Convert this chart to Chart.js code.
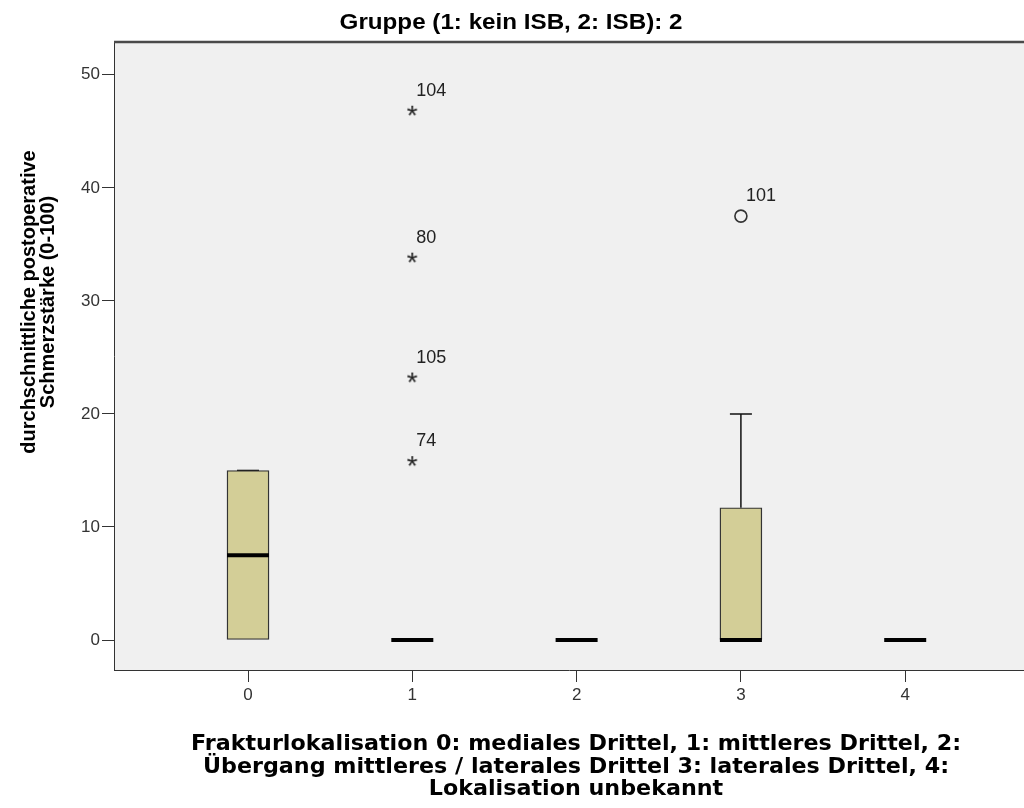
<!DOCTYPE html>
<html>
<head>
<meta charset="utf-8">
<script src="https://cdn.jsdelivr.net/npm/chart.js@4.4.0/dist/chart.umd.min.js"></script>
<style>
html, body { margin: 0; padding: 0; background: #fff; overflow: hidden; }
#wrap { width: 1024px; height: 808px; position: relative; }
</style>
</head>
<body>
<div id="wrap"><canvas id="boxChart" width="1024" height="808"></canvas></div>
<script>
// Boxplot values
const categories = [0, 1, 2, 3, 4];
const lowerWhisker = [0, 0, 0, 0, 0];
const q1 = [0, 0, 0, 0, 0];
const medians = [7.5, 0, 0, 0, 0];
const q3 = [15, 0, 0, 11.7, 0];
const upperWhisker = [15, 0, 0, 20, 0];

// extreme values (*) and outliers (o) with their case numbers
const extremeCat = [1, 1, 1, 1];
const extremeVals = [16, 23.4, 34, 47];
const extremeIds = ["74", "105", "80", "104"];
const outlierCat = [3];
const outlierVals = [37.5];
const outlierIds = ["101"];

const yTicks = [0, 10, 20, 30, 40, 50];

const chartTitle = "Gruppe (1: kein ISB, 2: ISB): 2";
const yTitle = ["durchschnittliche postoperative", "Schmerzstärke (0-100)"];
const xTitle = [
    "Frakturlokalisation 0: mediales Drittel, 1: mittleres Drittel, 2:",
    "Übergang mittleres / laterales Drittel 3: laterales Drittel, 4:",
    "Lokalisation unbekannt"
];

const tickFont = { family: "'Liberation Sans', Arial, sans-serif", size: 17 };

// SPSS draws extreme values as an asterisk glyph
function makeAsterisk() {
    const c = document.createElement("canvas");
    c.width = 22;
    c.height = 22;
    const g = c.getContext("2d");
    g.fillStyle = "#222";
    g.font = "28px 'Liberation Sans', Arial, sans-serif";
    g.textAlign = "center";
    g.textBaseline = "alphabetic";
    g.fillText("*", 11, 27);
    return c;
}

// extra drawing: plot background, whiskers, case labels, titles
const boxExtras = {
    id: "boxExtras",
    beforeDraw(chart) {
        const { ctx, chartArea: a } = chart;
        ctx.save();
        ctx.fillStyle = "#f0f0f0";
        ctx.fillRect(a.left, a.top, a.right - a.left, a.bottom - a.top);
        ctx.restore();
    },
    beforeDatasetsDraw(chart) {
        const { ctx } = chart;
        const xs = chart.scales.x, ys = chart.scales.y;
        ctx.save();
        ctx.strokeStyle = "#111";
        ctx.lineWidth = 1.5;
        categories.forEach((c, i) => {
            if (q3[i] <= q1[i]) return;
            const x = xs.getPixelForValue(c);
            const top = ys.getPixelForValue(upperWhisker[i]);
            const bottom = ys.getPixelForValue(lowerWhisker[i]);
            ctx.beginPath();
            ctx.moveTo(x, ys.getPixelForValue(q3[i]));
            ctx.lineTo(x, top);
            ctx.moveTo(x - 11, top);
            ctx.lineTo(x + 11, top);
            ctx.moveTo(x, ys.getPixelForValue(q1[i]));
            ctx.lineTo(x, bottom);
            ctx.stroke();
        });
        ctx.restore();
    },
    afterDatasetsDraw(chart) {
        const { ctx } = chart;
        const xs = chart.scales.x, ys = chart.scales.y;
        ctx.save();
        ctx.fillStyle = "#222";
        ctx.font = "18px 'Liberation Sans', Arial, sans-serif";
        ctx.textAlign = "left";
        ctx.textBaseline = "alphabetic";
        extremeVals.forEach((v, i) => {
            ctx.fillText(extremeIds[i], xs.getPixelForValue(extremeCat[i]) + 4, ys.getPixelForValue(v) - 13);
        });
        outlierVals.forEach((v, i) => {
            ctx.fillText(outlierIds[i], xs.getPixelForValue(outlierCat[i]) + 5, ys.getPixelForValue(v) - 15);
        });
        ctx.restore();
    },
    afterDraw(chart) {
        const { ctx, chartArea: a } = chart;
        ctx.save();
        // top frame line
        ctx.strokeStyle = "#4a4a4a";
        ctx.lineWidth = 2.5;
        ctx.beginPath();
        ctx.moveTo(a.left, a.top);
        ctx.lineTo(a.right, a.top);
        ctx.stroke();

        ctx.fillStyle = "#000";
        ctx.textAlign = "center";
        ctx.textBaseline = "middle";

        // title is a little wider than plain Arial bold in the original
        ctx.save();
        ctx.translate(511, 23);
        ctx.scale(1.1, 1);
        ctx.font = "bold 22px 'Liberation Sans', Arial, sans-serif";
        ctx.fillText(chartTitle, 0, 0);
        ctx.restore();

        // axis caption: wide bold face, slightly stretched
        ctx.save();
        ctx.translate(576, 745);
        ctx.scale(1.09, 1);
        ctx.font = "bold 20.4px 'DejaVu Sans', Verdana, sans-serif";
        xTitle.forEach((t, i) => ctx.fillText(t, 0, i * 22.5));
        ctx.restore();

        ctx.translate(38.5, 302);
        ctx.rotate(-Math.PI / 2);
        ctx.font = "bold 20px 'Liberation Sans', Arial, sans-serif";
        yTitle.forEach((t, i) => ctx.fillText(t, 0, -9.5 + i * 19));
        ctx.restore();
    }
};

const ctx = document.getElementById("boxChart").getContext("2d");
const boxChart = new Chart(ctx, {
    type: "bar",
    data: {
        datasets: [
            {
                type: "scatter",
                label: "Extremwerte",
                data: extremeVals.map((v, i) => ({ x: extremeCat[i], y: v })),
                pointStyle: makeAsterisk(),
                pointRadius: 6,
                order: 0
            },
            {
                type: "scatter",
                label: "Ausreißer",
                data: outlierVals.map((v, i) => ({ x: outlierCat[i], y: v })),
                pointStyle: "circle",
                pointRadius: 6,
                backgroundColor: "rgba(0,0,0,0)",
                borderColor: "#333",
                borderWidth: 1.6,
                order: 0
            },
            {
                type: "scatter",
                label: "Median",
                data: medians.map((v, i) => ({ x: categories[i], y: v })),
                pointStyle: "line",
                pointRadius: 21,
                borderColor: "#000",
                borderWidth: 4,
                order: 1
            },
            {
                label: "Box",
                data: categories.map((c, i) => ({ x: c, y: [q1[i], q3[i]] })),
                backgroundColor: "#d3ce97",
                borderColor: "#333",
                borderWidth: 1.4,
                borderSkipped: false,
                barThickness: 42,
                order: 2
            }
        ]
    },
    options: {
        responsive: false,
        animation: false,
        events: [],
        layout: { autoPadding: false, padding: { top: 42, left: 0, right: 0, bottom: 0 } },
        plugins: {
            legend: { display: false },
            tooltip: { enabled: false }
        },
        scales: {
            x: {
                type: "linear",
                offset: false,
                min: -0.8156,
                max: 4.723,
                afterBuildTicks: (s) => { s.ticks = categories.map((v) => ({ value: v })); },
                afterFit: (s) => { s.height = 138; },
                grid: { offset: false, drawOnChartArea: false, drawTicks: true, tickLength: 12, color: "#333" },
                border: { display: true, color: "#333", width: 1 },
                ticks: { font: tickFont, color: "#333", padding: 3 }
            },
            y: {
                min: -2.65,
                max: 52.9,
                afterBuildTicks: (s) => { s.ticks = yTicks.map((v) => ({ value: v })); },
                afterFit: (s) => { s.width = 114; },
                grid: { drawOnChartArea: false, drawTicks: true, tickLength: 12, color: "#333" },
                border: { display: true, color: "#333", width: 1 },
                ticks: { font: tickFont, color: "#333", padding: 2 }
            }
        }
    },
    plugins: [boxExtras]
});
</script>
</body>
</html>
